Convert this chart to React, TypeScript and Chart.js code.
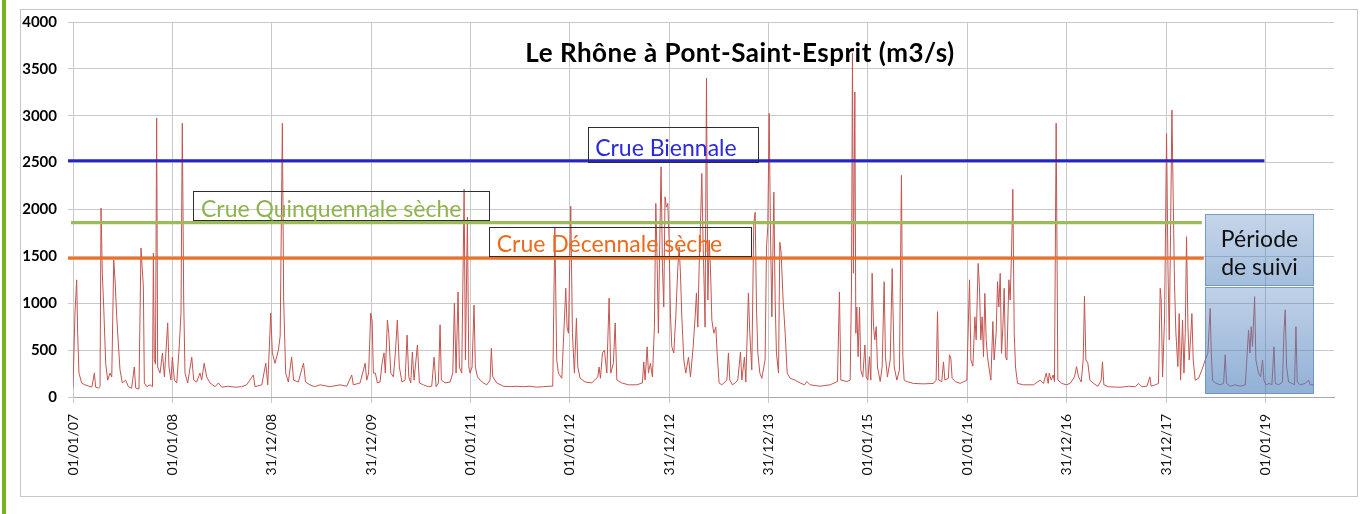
import React, { useEffect, useRef } from 'react';
import { Chart, registerables } from 'chart.js';

Chart.register(...registerables);

// x values are years elapsed since 01/01/2007
const tickYears = [0, 1, 2, 3, 4, 5, 6, 7, 8, 9, 10, 11, 12];
const tickLabels = [
  '01/01/07', '01/01/08', '31/12/08', '31/12/09', '01/01/11', '01/01/12', '31/12/12',
  '31/12/13', '01/01/15', '01/01/16', '31/12/16', '31/12/17', '01/01/19',
];
const yTicks = [0, 500, 1000, 1500, 2000, 2500, 3000, 3500, 4000];

const flowT = [
  // 2007-2009
  0.0, 0.02, 0.037, 0.047, 0.06, 0.087, 0.12, 0.19, 0.215, 0.228,
  0.255, 0.272, 0.282, 0.295, 0.309, 0.329, 0.349, 0.372, 0.39, 0.41,
  0.423, 0.44, 0.45, 0.473, 0.496, 0.53, 0.557, 0.59, 0.617, 0.631,
  0.664, 0.684, 0.708, 0.718, 0.742, 0.775, 0.8, 0.809, 0.818, 0.83,
  0.842, 0.852, 0.876, 0.9, 0.92, 0.953, 0.966, 0.986, 1.0, 1.02,
  1.044, 1.067, 1.087, 1.1, 1.114, 1.127, 1.154, 1.195, 1.215, 1.245,
  1.278, 1.295, 1.32, 1.345, 1.379, 1.43, 1.463, 1.497, 1.563, 1.63,
  1.698, 1.748, 1.815, 1.832, 1.9, 1.94, 1.96, 1.99, 2.006, 2.033,
  2.067, 2.085, 2.107, 2.12, 2.14, 2.167, 2.2, 2.22, 2.268, 2.3,
  2.32, 2.34, 2.385, 2.43,
  // 2009-2011
  2.486, 2.587, 2.687, 2.755, 2.805, 2.821, 2.889, 2.94, 2.956, 2.975,
  2.996, 3.01, 3.023, 3.043, 3.063, 3.09, 3.11, 3.13, 3.143, 3.164,
  3.178, 3.198, 3.224, 3.244, 3.264, 3.284, 3.311, 3.342, 3.362, 3.379,
  3.399, 3.415, 3.432, 3.466, 3.486, 3.526, 3.576, 3.61, 3.634, 3.654,
  3.677, 3.694, 3.707, 3.744, 3.795, 3.822, 3.838, 3.855, 3.875, 3.888,
  3.912, 3.936, 3.949, 3.969, 3.983, 3.996, 4.016, 4.036, 4.049, 4.07,
  4.097, 4.13, 4.164, 4.197, 4.21, 4.224, 4.265, 4.331, 4.399, 4.466,
  4.532, 4.6, 4.667, 4.734, 4.801, 4.828, 4.849,
  // 2011-2014
  4.868, 4.885, 4.919, 4.959, 4.972, 4.986, 5.009, 5.026, 5.046, 5.066,
  5.08, 5.103, 5.154, 5.221, 5.281, 5.294, 5.308, 5.328, 5.348, 5.372,
  5.395, 5.412, 5.438, 5.456, 5.473, 5.523, 5.59, 5.674, 5.73, 5.744,
  5.757, 5.778, 5.791, 5.811, 5.831, 5.851, 5.865, 5.878, 5.891, 5.905,
  5.918, 5.932, 5.945, 5.958, 5.972, 5.986, 5.999, 6.012, 6.026, 6.046,
  6.066, 6.087, 6.1, 6.113, 6.127, 6.147, 6.167, 6.194, 6.214, 6.241,
  6.261, 6.274, 6.288, 6.301, 6.314, 6.328, 6.341, 6.355, 6.361, 6.375,
  6.389, 6.402, 6.415, 6.429, 6.449, 6.469, 6.482, 6.502, 6.529, 6.58,
  6.596, 6.61, 6.636, 6.663, 6.69, 6.717, 6.731, 6.757, 6.771, 6.797,
  6.811, 6.831, 6.851, 6.865, 6.878, 6.892, 6.912, 6.932, 6.965, 6.979,
  6.992, 7.006, 7.019, 7.033, 7.053, 7.066, 7.079, 7.1, 7.113, 7.126,
  7.146, 7.167, 7.187, 7.217, 7.267, 7.318, 7.361,
  // 2014-2016
  7.385, 7.418, 7.519, 7.619, 7.693, 7.713, 7.727, 7.788, 7.821, 7.834,
  7.844, 7.854, 7.868, 7.878, 7.888, 7.901, 7.915, 7.928, 7.948, 7.969,
  7.982, 7.999, 8.015, 8.029, 8.042, 8.056, 8.069, 8.083, 8.096, 8.123,
  8.143, 8.163, 8.176, 8.196, 8.224, 8.244, 8.264, 8.291, 8.317, 8.337,
  8.351, 8.364, 8.391, 8.458, 8.559, 8.659, 8.686, 8.7, 8.713, 8.743,
  8.76, 8.774, 8.81, 8.82, 8.834, 8.847, 8.878, 8.928, 8.995, 9.022,
  9.036, 9.056, 9.076, 9.089, 9.109, 9.122, 9.136, 9.149, 9.163, 9.176,
  9.19, 9.203, 9.217, 9.237, 9.257, 9.27, 9.29, 9.304, 9.317, 9.331,
  9.344, 9.358, 9.371, 9.384, 9.398, 9.418, 9.431, 9.444, 9.458, 9.472,
  9.485, 9.505, 9.565, 9.666, 9.733, 9.767, 9.794, 9.814,
  // 2016-2019
  9.824, 9.844, 9.864, 9.877, 9.894, 9.911, 9.952, 9.995, 10.035, 10.079,
  10.099, 10.119, 10.146, 10.166, 10.179, 10.193, 10.213, 10.233, 10.27, 10.314,
  10.347, 10.36, 10.374, 10.421, 10.488, 10.556, 10.622, 10.69, 10.723, 10.757,
  10.807, 10.837, 10.85, 10.891, 10.924, 10.941, 10.951, 10.965, 10.985, 11.005,
  11.019, 11.032, 11.045, 11.059, 11.072, 11.085, 11.099, 11.119, 11.132, 11.146,
  11.166, 11.18, 11.193, 11.206, 11.22, 11.233, 11.246, 11.26, 11.273, 11.293,
  11.327, 11.361, 11.394, 11.421, 11.434, 11.444, 11.454, 11.468, 11.495, 11.545,
  11.579, 11.595, 11.608, 11.646, 11.696, 11.746, 11.797, 11.817, 11.83, 11.844,
  11.857, 11.87, 11.891, 11.904, 11.917, 11.931, 11.951, 11.971, 11.985, 12.005,
  12.038, 12.065, 12.086, 12.099, 12.132, 12.172, 12.186, 12.199, 12.213, 12.233,
  12.267, 12.293, 12.307, 12.32, 12.35, 12.401, 12.434, 12.451, 12.488,
];

const flowQ = [
  // 2007-2009
  100, 895, 1250, 680, 255, 150, 130, 105, 255, 105,
  95, 110, 2015, 1320, 960, 360, 180, 255, 215, 1460,
  1250, 855, 680, 290, 150, 180, 110, 95, 320, 95,
  85, 1590, 1175, 150, 110, 130, 110, 1535, 400, 350,
  2975, 320, 255, 470, 215, 790, 320, 180, 425, 180,
  150, 500, 895, 2920, 1035, 255, 150, 425, 180, 160,
  255, 180, 360, 215, 150, 110, 150, 105, 115, 105,
  110, 130, 235, 110, 130, 360, 130, 895, 470, 360,
  500, 650, 2920, 1035, 255, 160, 425, 180, 160, 290,
  360, 160, 130, 110,
  // 2009-2011
  130, 110, 130, 115, 235, 130, 150, 360, 180, 255,
  895, 820, 255, 255, 150, 160, 360, 470, 255, 820,
  680, 255, 215, 470, 820, 320, 160, 180, 660, 215,
  150, 480, 180, 555, 150, 130, 110, 115, 425, 110,
  150, 770, 180, 150, 160, 255, 1000, 255, 1120, 320,
  255, 2215, 395, 1920, 320, 255, 320, 980, 320, 215,
  180, 150, 130, 180, 520, 215, 150, 115, 110, 115,
  110, 115, 105, 110, 115, 115, 1815,
  // 2011-2014
  395, 255, 200, 1160, 745, 680, 2035, 680, 255, 840,
  320, 200, 160, 150, 215, 320, 200, 470, 500, 255,
  1055, 255, 360, 790, 180, 150, 130, 130, 150, 375,
  180, 535, 255, 360, 215, 745, 2065, 1460, 680, 1675,
  2455, 1385, 960, 2135, 2025, 2065, 1675, 895, 535, 470,
  855, 1385, 1600, 1320, 855, 395, 255, 425, 215, 535,
  855, 1110, 745, 1385, 1815, 2385, 1640, 1035, 745, 3400,
  1035, 1675, 1385, 820, 680, 745, 470, 150, 130, 180,
  470, 180, 130, 150, 180, 480, 180, 425, 160, 1110,
  680, 290, 1855, 1970, 960, 470, 255, 200, 395, 1600,
  1815, 3025, 1750, 855, 2185, 1035, 470, 255, 1650, 1545,
  1035, 680, 255, 200, 180, 150, 130,
  // 2014-2016
  165, 130, 115, 130, 165, 1120, 180, 165, 180, 1140,
  3665, 1320, 3255, 680, 960, 430, 960, 290, 215, 555,
  215, 180, 430, 180, 1320, 750, 610, 750, 320, 165,
  320, 1230, 430, 215, 395, 1370, 320, 180, 290, 2365,
  430, 180, 165, 145, 140, 145, 180, 910, 180, 165,
  375, 180, 200, 450, 415, 200, 165, 145, 180, 1250,
  395, 330, 855, 610, 1425, 1180, 610, 855, 430, 1105,
  610, 430, 320, 180, 805, 395, 680, 1230, 960, 1320,
  465, 750, 1160, 430, 395, 1250, 1035, 1500, 2215, 680,
  320, 145, 130, 130, 180, 145, 255, 145,
  // 2016-2019
  255, 180, 235, 165, 2920, 180, 145, 130, 145, 215,
  325, 215, 160, 395, 1075, 395, 360, 180, 145, 115,
  180, 375, 130, 110, 105, 105, 115, 110, 145, 110,
  115, 215, 115, 130, 145, 1160, 1035, 215, 855, 2810,
  1390, 610, 1745, 3060, 2100, 1210, 680, 325, 890, 180,
  820, 255, 680, 1710, 750, 395, 610, 890, 395, 180,
  200, 290, 395, 470, 750, 945, 500, 180, 150, 130,
  145, 450, 145, 115, 130, 115, 130, 470, 715, 470,
  750, 540, 1070, 395, 325, 255, 215, 395, 180, 130,
  145, 130, 535, 145, 130, 160, 680, 930, 320, 160,
  145, 130, 750, 160, 130, 145, 180, 130, 130,
];

// Reference discharge levels (m3/s) and the span (years) of each line
const levelNames = ['Crue Biennale', 'Crue Quinquennale sèche', 'Crue Décennale sèche'];
const levelValues = [2520, 1860, 1480];
const levelStart = [-0.05, -0.02, -0.05];
const levelEnd = [11.99, 11.36, 11.38];
const levelColors = ['#2424c8', '#9bbb59', '#f07125'];
const levelTextColors = ['#2a2ad6', '#8fb44e', '#ec6a1c'];

// Label boxes in data units: [x0, x1, yTop, yBottom, textX, textBaseline]
const levelBoxes = [
  [5.183, 6.893, 2880, 2507, 5.255, 2570],
  [1.208, 4.186, 2197, 1888, 1.288, 1923],
  [4.186, 6.823, 1813, 1504, 4.264, 1550],
];

// "Période de suivi" monitoring period (years since 01/01/07)
const suiviStart = 11.39;
const suiviEnd = 12.48;
const suiviLabelTop = 1952;
const suiviLabelBottom = 1195;
const suiviAreaTop = 1173;
const suiviAreaBottom = 43;
const suiviLines = ['Période', 'de suivi'];
const suiviBaselines = [1603, 1301];

const titleText = 'Le Rhône à Pont-Saint-Esprit (m3/s)';

const FONT = 'Lato';

const overlayPlugin = {
  id: 'overlay',
  afterDatasetsDraw(chart: any) {
    const { ctx, scales } = chart;
    const x = scales.x;
    const y = scales.y;
    ctx.save();

    // Level label boxes
    levelBoxes.forEach((b, i) => {
      const X0 = Math.round(x.getPixelForValue(b[0])) + 0.5;
      const X1 = Math.round(x.getPixelForValue(b[1])) + 0.5;
      const Y0 = Math.round(y.getPixelForValue(b[2])) + 0.5;
      const Y1 = Math.round(y.getPixelForValue(b[3])) + 0.5;
      ctx.strokeStyle = '#2e2e2e';
      ctx.lineWidth = 1;
      ctx.strokeRect(X0, Y0, X1 - X0, Y1 - Y0);
      ctx.font = `23px ${FONT}`;
      ctx.fillStyle = levelTextColors[i];
      ctx.textAlign = 'left';
      ctx.textBaseline = 'alphabetic';
      ctx.fillText(levelNames[i], x.getPixelForValue(b[4]), y.getPixelForValue(b[5]));
    });

    // Période de suivi
    const px0 = Math.round(x.getPixelForValue(suiviStart)) + 0.5;
    const px1 = Math.round(x.getPixelForValue(suiviEnd)) + 0.5;
    const drawBox = (vTop: number, vBot: number, a0: number, a1: number) => {
      const t = Math.round(y.getPixelForValue(vTop)) + 0.5;
      const b = Math.round(y.getPixelForValue(vBot)) + 0.5;
      const g = ctx.createLinearGradient(0, t, 0, b);
      g.addColorStop(0, `rgba(79,129,189,${a0})`);
      g.addColorStop(1, `rgba(79,129,189,${a1})`);
      ctx.fillStyle = g;
      ctx.fillRect(px0, t, px1 - px0, b - t);
      ctx.strokeStyle = 'rgba(79,129,189,0.75)';
      ctx.lineWidth = 1;
      ctx.strokeRect(px0, t, px1 - px0, b - t);
    };
    drawBox(suiviLabelTop, suiviLabelBottom, 0.33, 0.52);
    drawBox(suiviAreaTop, suiviAreaBottom, 0.36, 0.62);
    ctx.fillStyle = '#111';
    ctx.font = `23px ${FONT}`;
    ctx.textAlign = 'center';
    ctx.textBaseline = 'alphabetic';
    const cx = (px0 + px1) / 2;
    suiviLines.forEach((s, i) => ctx.fillText(s, cx, y.getPixelForValue(suiviBaselines[i])));

    // Title
    ctx.font = `bold 26px ${FONT}`;
    try {
      (ctx as any).letterSpacing = '0.5px';
    } catch (e) {
      /* ignore */
    }
    ctx.fillStyle = '#000';
    ctx.textAlign = 'center';
    ctx.fillText(titleText, 740, 62);
    try {
      (ctx as any).letterSpacing = '0px';
    } catch (e) {
      /* ignore */
    }
    ctx.restore();
  },
};

export default function App() {
  const ref = useRef<HTMLCanvasElement>(null);

  useEffect(() => {
    const levelSets = levelValues.map((v, i) => ({
      label: levelNames[i],
      data: [
        { x: levelStart[i], y: v },
        { x: levelEnd[i], y: v },
      ],
      borderColor: levelColors[i],
      borderWidth: 3.2,
      pointRadius: 0,
      clip: false as any,
    }));
    const chart = new Chart(ref.current as HTMLCanvasElement, {
      type: 'line',
      data: {
        datasets: [
          ...levelSets,
          {
            label: 'Débit',
            data: flowT.map((t, i) => ({ x: t, y: flowQ[i] })),
            borderColor: '#c4544f',
            borderWidth: 1,
            pointRadius: 0,
            tension: 0,
          },
        ],
      },
      options: {
        animation: false,
        responsive: false,
        devicePixelRatio: 1,
        layout: { padding: { left: 0, top: 22, right: 26, bottom: 0 } },
        plugins: { legend: { display: false }, tooltip: { enabled: false }, title: { display: false } },
        scales: {
          x: {
            type: 'linear',
            min: 0,
            max: 12.69,
            afterBuildTicks: (s: any) => {
              s.ticks = tickYears.map((v) => ({ value: v }));
            },
            afterFit: (s: any) => {
              s.height = 117;
            },
            grid: { color: '#c9c9c9', lineWidth: 1, tickLength: 6, drawTicks: true },
            border: { color: '#a9a9a9', width: 1 },
            ticks: {
              autoSkip: false,
              maxRotation: 90,
              minRotation: 90,
              padding: 11,
              color: '#111',
              font: { family: FONT, size: 14 },
              callback: (_v: any, i: number) => tickLabels[i],
            },
          },
          y: {
            type: 'linear',
            min: 0,
            max: 4000,
            afterBuildTicks: (s: any) => {
              s.ticks = yTicks.map((v) => ({ value: v }));
            },
            afterFit: (s: any) => {
              s.width = 73;
            },
            grid: { color: '#c9c9c9', lineWidth: 1, tickLength: 5 },
            border: { color: '#c9c9c9', width: 1 },
            ticks: {
              padding: 11,
              color: '#000',
              font: { family: FONT, size: 15, weight: 'bold' },
              callback: (v: any) => String(v),
            },
          },
        },
      },
      plugins: [overlayPlugin],
    } as any);
    return () => chart.destroy();
  }, []);

  return (
    <div
      style={{
        position: 'fixed',
        left: 0,
        top: 0,
        width: 1360,
        height: 514,
        background: '#ffffff',
        overflow: 'hidden',
      }}
    >
      <div style={{ position: 'absolute', left: 2, top: 0, width: 4, height: 514, background: '#78b41e' }} />
      <div
        style={{
          position: 'absolute',
          left: 20,
          top: 9,
          width: 1338,
          height: 488,
          border: '1px solid #c6c6c6',
          boxSizing: 'border-box',
        }}
      />
      <canvas
        ref={ref}
        width={1360}
        height={514}
        style={{ position: 'absolute', left: 0, top: 0, width: 1360, height: 514 }}
      />
    </div>
  );
}
